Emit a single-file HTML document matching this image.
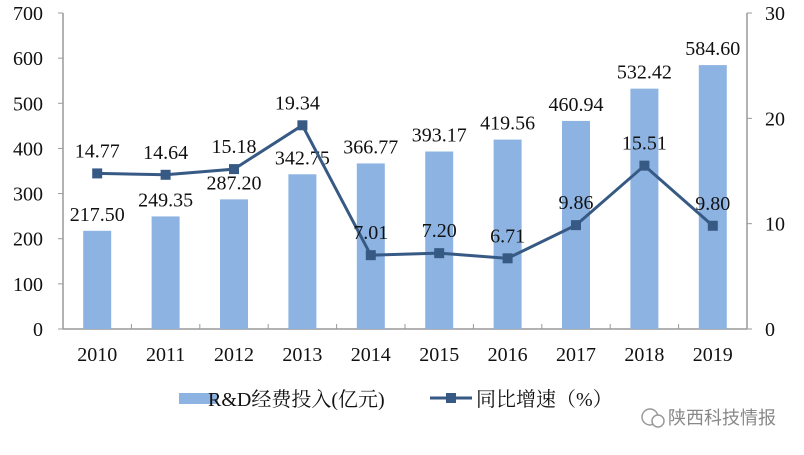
<!DOCTYPE html>
<html><head><meta charset="utf-8"><style>
body{margin:0;background:#fff;width:804px;height:450px;overflow:hidden}
svg text{font-family:"Liberation Serif","Noto Serif CJK SC",serif;fill:#111}
</style></head><body>
<svg id="c" width="804" height="450"></svg>
<script>
const years=["2010","2011","2012","2013","2014","2015","2016","2017","2018","2019"];
const spend=[217.50,249.35,287.20,342.75,366.77,393.17,419.56,460.94,532.42,584.60];
const growth=[14.77,14.64,15.18,19.34,7.01,7.20,6.71,9.86,15.51,9.80];
const leftTicks=[0,100,200,300,400,500,600,700];
const rightTicks=[0,10,20,30];
const NS="http://www.w3.org/2000/svg",svg=document.getElementById('c');
const x0=63,x1=747,y0=329,yTop=13;
const step=(x1-x0)/years.length;
const xc=i=>x0+step*(i+0.5);
const yL=v=>y0-(v/700)*(y0-yTop);
const yR=v=>y0-(v/30)*(y0-yTop);
function el(t,a,txt){const e=document.createElementNS(NS,t);for(const k in a)e.setAttribute(k,a[k]);if(txt!=null)e.textContent=txt;svg.appendChild(e);return e;}
let e=el('line',{x1:x0,y1:yTop,x2:x0,y2:y0,stroke:'#999','stroke-width':1.5});

e=el('line',{x1:x1,y1:yTop,x2:x1,y2:y0,stroke:'#999','stroke-width':1.5});

e=el('line',{x1:x0,y1:y0,x2:x1,y2:y0,stroke:'#999','stroke-width':1.5});

leftTicks.forEach(v=>{
  el('line',{x1:x0-5,y1:yL(v),x2:x0,y2:yL(v),stroke:'#999'});
  e=el('text',{x:43,y:yL(v)+7,'text-anchor':'end','font-size':20},String(v));
  
});
rightTicks.forEach(v=>{
  el('line',{x1:x1,y1:yR(v),x2:x1+5,y2:yR(v),stroke:'#999'});
  e=el('text',{x:x1+18,y:yR(v)+7,'font-size':20},String(v));
  
});
years.forEach((y,i)=>{
  el('line',{x1:x0+step*(i+1),y1:y0,x2:x0+step*(i+1),y2:y0-5,stroke:'#999'});
  e=el('text',{x:xc(i),y:361,'text-anchor':'middle','font-size':20},y);
  
});
spend.forEach((v,i)=>{
  e=el('rect',{x:xc(i)-14,y:yL(v),width:28,height:y0-yL(v),fill:'#8db3e2'});
  
  e=el('text',{x:xc(i),y:yL(v)-10,'text-anchor':'middle','font-size':20},v.toFixed(2));
  
});
e=el('polyline',{points:growth.map((v,i)=>xc(i)+','+yR(v)).join(' '),fill:'none',stroke:'#375a85','stroke-width':3});

growth.forEach((v,i)=>{
  e=el('rect',{x:xc(i)-5,y:yR(v)-5,width:10,height:10,fill:'#375a85'});
  
  e=el('text',{x:xc(i)+(i==3?-5:0),y:yR(v)-16,'text-anchor':'middle','font-size':20},v.toFixed(2));
  
});
e=el('rect',{x:179,y:393,width:39,height:11,fill:'#8db3e2'});

e=el('text',{x:208,y:406,'font-size':20},'R&D经费投入(亿元)');

e=el('line',{x1:430,y1:398,x2:472,y2:398,stroke:'#375a85','stroke-width':3});

el('rect',{x:446,y:393,width:10,height:10,fill:'#375a85'});
e=el('text',{x:476,y:406,'font-size':20},'同比增速（%）');

e=el('circle',{cx:650,cy:417,r:8,fill:'none',stroke:'#999','stroke-width':1.5});

el('circle',{cx:658,cy:421,r:6,fill:'#fff',stroke:'#999','stroke-width':1.5});
e=el('text',{x:668,y:424,'font-size':18,style:'fill:#888;font-family:"Liberation Sans","Noto Sans CJK SC",sans-serif'},'陕西科技情报');

</script>
</body></html>
